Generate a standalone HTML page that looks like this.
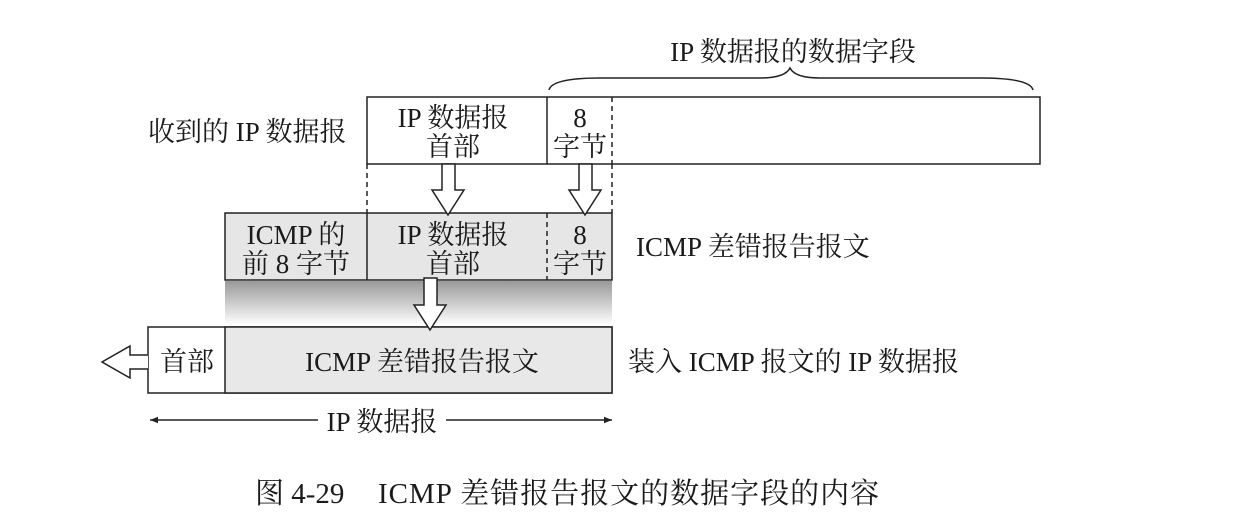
<!DOCTYPE html>
<html><head><meta charset="utf-8"><style>
html,body{margin:0;padding:0;background:#fff;width:1236px;height:517px;overflow:hidden}
text{font-family:"Liberation Serif","Noto Serif CJK SC",serif;fill:#1a1a1a;font-size:27px}
</style></head><body>
<svg width="1236" height="517" viewBox="0 0 1236 517" xmlns="http://www.w3.org/2000/svg">
<defs>
<linearGradient id="sh" x1="0" y1="0" x2="0" y2="1">
<stop offset="0" stop-color="#999"/><stop offset="1" stop-color="#fff"/>
</linearGradient>
<marker id="ah" viewBox="0 0 10 10" refX="10" refY="5" markerWidth="12" markerHeight="8" orient="auto-start-reverse" markerUnits="userSpaceOnUse"><path d="M0,1 L10,5 L0,9 z" fill="#222"/></marker>
</defs>
<g stroke="#222" stroke-width="1.5" fill="none">
<path d="M549,90 Q552,78 600,78 L760,78 Q785,78 790,68 Q795,78 820,78 L980,78 Q1030,78 1033,90"/>
<rect x="367" y="97" width="673" height="67" fill="#fff"/>
<line x1="547" y1="97" x2="547" y2="164"/>
<line x1="612" y1="97" x2="612" y2="164" stroke-dasharray="5,4"/>
<line x1="367" y1="164" x2="367" y2="213" stroke-dasharray="5,4"/>
<line x1="612" y1="164" x2="612" y2="213" stroke-dasharray="5,4"/>
</g>
<rect x="225" y="281" width="387" height="44" fill="url(#sh)"/>
<g stroke="#222" stroke-width="1.5">
<rect x="225" y="213" width="387" height="67" fill="#e6e6e6"/>
<line x1="367" y1="213" x2="367" y2="280"/>
<line x1="547" y1="213" x2="547" y2="280" stroke-dasharray="5,4"/>
<rect x="148" y="327" width="464" height="66" fill="#fff"/>
<rect x="225" y="327" width="387" height="66" fill="#e8e8e8"/>
<path d="M442,164 L455,164 L455,190 L464,190 L448,215 L432,190 L442,190 Z" fill="#fff"/>
<path d="M579,164 L592,164 L592,190 L601,190 L585,215 L569,190 L579,190 Z" fill="#fff"/>
<path d="M424,278 L437,278 L437,305 L446,305 L430,330 L414,305 L424,305 Z" fill="#fff"/>
<path d="M148,355 L130,355 L130,346 L102,362 L130,378 L130,369 L148,369" fill="#fff"/>
<line x1="150" y1="420" x2="318" y2="420" marker-start="url(#ah)"/>
<line x1="446" y1="420" x2="612" y2="420" marker-end="url(#ah)"/>
</g>
<text x="793" y="61" text-anchor="middle">IP 数据报的数据字段</text>
<text x="148" y="141">收到的 IP 数据报</text>
<text x="453" y="127" text-anchor="middle">IP 数据报</text>
<text x="453" y="156" text-anchor="middle">首部</text>
<text x="580" y="127" text-anchor="middle">8</text>
<text x="580" y="156" text-anchor="middle">字节</text>
<text x="296" y="244" text-anchor="middle">ICMP 的</text>
<text x="296" y="273" text-anchor="middle">前 8 字节</text>
<text x="453" y="244" text-anchor="middle">IP 数据报</text>
<text x="453" y="273" text-anchor="middle">首部</text>
<text x="580" y="244" text-anchor="middle">8</text>
<text x="580" y="273" text-anchor="middle">字节</text>
<text x="636" y="256">ICMP 差错报告报文</text>
<text x="187" y="371" text-anchor="middle">首部</text>
<text x="422" y="371" text-anchor="middle">ICMP 差错报告报文</text>
<text x="628" y="371">装入 ICMP 报文的 IP 数据报</text>
<text x="382" y="431" text-anchor="middle">IP 数据报</text>
<text x="255" y="503" style="font-size:29px">图 4-29</text>
<text x="378" y="503" style="font-size:29px;letter-spacing:1px">ICMP 差错报告报文的数据字段的内容</text>
</svg>
</body></html>
